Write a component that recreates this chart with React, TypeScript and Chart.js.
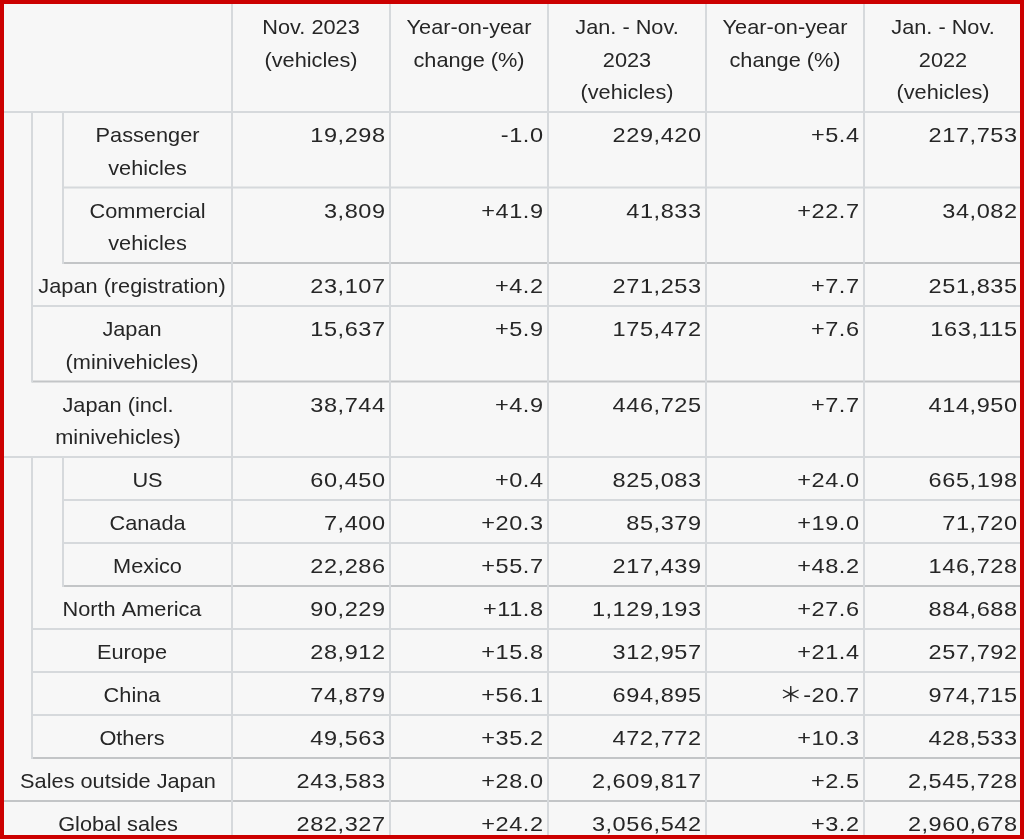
import React, { useEffect, useRef } from "react";
import { Chart, registerables } from "chart.js";
Chart.register(...registerables);

// ---------- DATA ----------
const columnHeaders: string[][] = [
  ["Nov. 2023", "(vehicles)"],
  ["Year-on-year", "change (%)"],
  ["Jan. - Nov.", "2023", "(vehicles)"],
  ["Year-on-year", "change (%)"],
  ["Jan. - Nov.", "2022", "(vehicles)"],
];
const rowLabels: string[][] = [
  ["Passenger", "vehicles"],
  ["Commercial", "vehicles"],
  ["Japan (registration)"],
  ["Japan", "(minivehicles)"],
  ["Japan (incl.", "minivehicles)"],
  ["US"],
  ["Canada"],
  ["Mexico"],
  ["North America"],
  ["Europe"],
  ["China"],
  ["Others"],
  ["Sales outside Japan"],
  ["Global sales"],
];
const rowLevels = [2, 2, 1, 1, 0, 2, 2, 2, 1, 1, 1, 1, 0, 0];
const nov2023 = [19298, 3809, 23107, 15637, 38744, 60450, 7400, 22286, 90229, 28912, 74879, 49563, 243583, 282327];
const novYoY = [-1.0, 41.9, 4.2, 5.9, 4.9, 0.4, 20.3, 55.7, 11.8, 15.8, 56.1, 35.2, 28.0, 24.2];
const janNov2023 = [229420, 41833, 271253, 175472, 446725, 825083, 85379, 217439, 1129193, 312957, 694895, 472772, 2609817, 3056542];
const janNovYoY = [5.4, 22.7, 7.7, 7.6, 7.7, 24.0, 19.0, 48.2, 27.6, 21.4, -20.7, 10.3, 2.5, 3.2];
const janNovYoYNotes = ["", "", "", "", "", "", "", "", "", "", "＊", "", "", ""];
const janNov2022 = [217753, 34082, 251835, 163115, 414950, 665198, 71720, 146728, 884688, 257792, 974715, 428533, 2545728, 2960678];

// ---------- LAYOUT / STYLE ----------
const LAYOUT = {
  width: 1016,
  height: 831,
  levelX: [0, 28, 59],
  labelRight: 228,
  colWidth: 158,
  headerHeight: 108,
  lineHeight: 32.5,
  padTop: 8,
  rowPad: 10.5,
  padRight: 5,
};
const STYLE = {
  bg: "#f7f7f7",
  grid: "#d6d9dc",
  gridDark: "#c3c5c7",
  gridWidth: 2,
  text: "#262626",
  font: '21px "Liberation Sans", Arial, "Noto Sans CJK JP", sans-serif',
  labelStretch: 1.035,
  numStretch: 1.12,
  numSpacing: 0.5,
  border: "#cc0000",
};

const fmtInt = (v: number) => v.toLocaleString("en-US");
const fmtPct = (v: number) => (v >= 0 ? "+" : "-") + Math.abs(v).toFixed(1);

const columnValues: string[][] = [
  nov2023.map(fmtInt),
  novYoY.map(fmtPct),
  janNov2023.map(fmtInt),
  janNovYoY.map((v, i) => janNovYoYNotes[i] + fmtPct(v)),
  janNov2022.map(fmtInt),
];

const tablePlugin = {
  id: "tablePlugin",
  beforeDraw(chart: any) {
    const { ctx, width, height } = chart;
    ctx.save();
    ctx.fillStyle = STYLE.bg;
    ctx.fillRect(0, 0, width, height);
    ctx.restore();
  },
  afterDraw(chart: any) {
    const { ctx } = chart;
    const sx = chart.scales.x;
    const sy = chart.scales.y;
    const px = (u: number) => sx.getPixelForValue(u);
    const py = (u: number) => sy.getPixelForValue(u);
    const L = LAYOUT;

    const tops: number[] = [];
    let acc = L.headerHeight;
    rowLabels.forEach((lines) => {
      tops.push(acc);
      acc += lines.length * L.lineHeight + L.rowPad;
    });
    tops.push(acc);

    const colLeft = (c: number) => L.labelRight + c * L.colWidth;

    ctx.save();
    ctx.lineWidth = STYLE.gridWidth;
    const line = (x1: number, y1: number, x2: number, y2: number, color: string) => {
      ctx.strokeStyle = color;
      ctx.beginPath();
      ctx.moveTo(px(x1), py(y1));
      ctx.lineTo(px(x2), py(y2));
      ctx.stroke();
    };
    line(0, L.headerHeight, L.width, L.headerHeight, STYLE.grid);
    rowLabels.forEach((_, r) => {
      const lvl = rowLevels[r];
      const next = r + 1 < rowLevels.length ? rowLevels[r + 1] : lvl;
      const dark = next < lvl || (lvl === 0 && next === 0);
      line(L.levelX[lvl], tops[r + 1], L.width, tops[r + 1], dark ? STYLE.gridDark : STYLE.grid);
    });
    rowLabels.forEach((_, r) => {
      const lvl = rowLevels[r];
      for (let k = 1; k <= lvl; k++) {
        line(L.levelX[k], tops[r] - 1, L.levelX[k], tops[r + 1] + 1, STYLE.grid);
      }
    });
    for (let c = 0; c < columnHeaders.length; c++) {
      line(colLeft(c), 0, colLeft(c), L.height, STYLE.grid);
    }

    // text helpers
    ctx.fillStyle = STYLE.text;
    ctx.font = STYLE.font;
    ctx.textBaseline = "middle";
    ctx.textAlign = "left";
    const anyCtx = ctx as any;
    const hasLS = "letterSpacing" in anyCtx;
    const drawText = (t: string, x: number, y: number, align: "center" | "right", stretch: number, spacing: number) => {
      if (hasLS) anyCtx.letterSpacing = spacing + "px";
      const w = (ctx.measureText(t).width - (hasLS ? spacing : 0)) * stretch;
      const left = align === "center" ? x - w / 2 : x - w;
      ctx.save();
      ctx.translate(left, y);
      ctx.scale(stretch, 1);
      ctx.fillText(t, 0, 0);
      ctx.restore();
      if (hasLS) anyCtx.letterSpacing = "0px";
    };
    const firstLine = L.padTop + L.lineHeight / 2;

    columnHeaders.forEach((lines, c) => {
      const cx = colLeft(c) + L.colWidth / 2;
      lines.forEach((t, i) => {
        drawText(t, px(cx), py(firstLine + i * L.lineHeight), "center", STYLE.labelStretch, 0);
      });
    });
    rowLabels.forEach((lines, r) => {
      const cx = (L.levelX[rowLevels[r]] + L.labelRight) / 2;
      lines.forEach((t, i) => {
        drawText(t, px(cx), py(tops[r] + firstLine + i * L.lineHeight), "center", STYLE.labelStretch, 0);
      });
    });
    columnValues.forEach((vals, c) => {
      const right = colLeft(c + 1) - L.padRight;
      vals.forEach((t, r) => {
        drawText(t, px(right), py(tops[r] + firstLine), "right", STYLE.numStretch, STYLE.numSpacing);
      });
    });
    ctx.restore();
  },
};

export default function App() {
  const ref = useRef<HTMLCanvasElement | null>(null);
  useEffect(() => {
    document.body.style.margin = "0";
    if (!ref.current) return;
    const chart = new Chart(ref.current, {
      type: "scatter",
      data: { datasets: [{ data: [], pointRadius: 0 }] },
      options: {
        animation: false,
        responsive: true,
        maintainAspectRatio: false,
        layout: { padding: 0 },
        plugins: { legend: { display: false }, tooltip: { enabled: false } },
        scales: {
          x: { type: "linear", min: 0, max: LAYOUT.width, display: false },
          y: { type: "linear", min: 0, max: LAYOUT.height, reverse: true, display: false },
        },
      },
      plugins: [tablePlugin],
    });
    return () => chart.destroy();
  }, []);
  return (
    <div
      style={{
        width: 1024,
        height: 839,
        boxSizing: "border-box",
        border: `4px solid ${STYLE.border}`,
        background: STYLE.bg,
        overflow: "hidden",
      }}
    >
      <div style={{ position: "relative", width: LAYOUT.width, height: LAYOUT.height }}>
        <canvas ref={ref} />
      </div>
    </div>
  );
}
